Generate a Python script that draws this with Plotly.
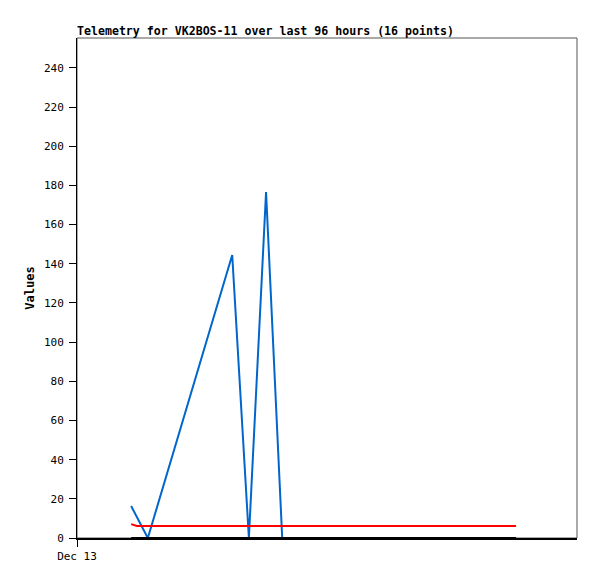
import plotly.graph_objects as go
from datetime import datetime, timedelta

base = datetime(2023, 12, 13, 0, 0)
# hours after Dec 13 00:00 for the 16 telemetry points
hours = [10.4, 11.5, 13.6, 29.8, 33.0, 36.3, 39.4, 45.0, 50.5, 56.0, 61.5, 67.0, 72.5, 78.0, 81.5, 84.3]
times = [base + timedelta(hours=h) for h in hours]

blue_vals = [16.3, 10.5, 0, 144.5, 0, 176.7, 0, 0, 0, 0, 0, 0, 0, 0, 0, 0]
red_vals = [7.1, 6.1, 6.1, 6.1, 6.1, 6.1, 6.1, 6.1, 6.1, 6.1, 6.1, 6.1, 6.1, 6.1, 6.1, 6.1]
black_vals = [0] * 16

y_ticks = list(range(0, 241, 20))
x_start = base
x_end = base + timedelta(hours=96)

font_mono = "DejaVu Sans Mono, Liberation Mono, monospace"

fig = go.Figure()
fig.add_trace(go.Scatter(x=times, y=blue_vals, mode="lines",
                         line=dict(color="#0066cc", width=2), showlegend=False))
fig.add_trace(go.Scatter(x=times, y=red_vals, mode="lines",
                         line=dict(color="#ff0000", width=2), showlegend=False))
fig.add_trace(go.Scatter(x=times, y=black_vals, mode="lines",
                         line=dict(color="#000000", width=2), showlegend=False))

fig.add_shape(type="rect", xref="paper", yref="paper", x0=0, y0=0, x1=1, y1=1,
              line=dict(color="#555555", width=1), layer="below")

fig.update_layout(
    width=589, height=571,
    margin=dict(l=69, r=20, t=30, b=41, autoexpand=False),
    paper_bgcolor="white", plot_bgcolor="white",
    font=dict(family=font_mono, size=11, color="#000000"),
    annotations=[dict(text="<b>Telemetry for VK2BOS-11 over last 96 hours (16 points)</b>",
                      xref="paper", yref="paper", x=0, y=1, xanchor="left", yanchor="bottom",
                      yshift=-2, showarrow=False, xshift=-2, font=dict(family=font_mono, size=11.6))],
    xaxis=dict(type="date", range=[x_start, x_end], showgrid=False, zeroline=False,
               automargin=False,
               showline=True, linecolor="#000000", linewidth=2,
               tickmode="array", tickvals=[x_start], ticktext=["Dec 13"],
               ticks="outside", ticklen=7, tickcolor="#000000"),
    yaxis=dict(range=[0, 255.3], showgrid=False, zeroline=False,
               automargin=False,
               showline=True, linecolor="#000000", linewidth=1,
               tickmode="array", tickvals=y_ticks,
               ticks="outside", ticklen=7, tickcolor="#000000",
               ticklabelstandoff=3,
               title=dict(text="<b>Values</b>", standoff=6, font=dict(size=12))),
)

fig.write_html("out.html")
